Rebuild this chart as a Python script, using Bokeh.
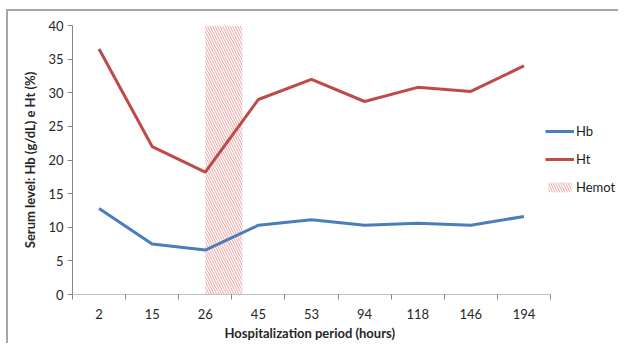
from bokeh.plotting import figure
from bokeh.models import FixedTicker, Range1d, Legend, LegendItem, Title
from bokeh.embed import file_html
from bokeh.resources import INLINE

hours = ["2", "15", "26", "45", "53", "94", "118", "146", "194"]
hb = [12.8, 7.5, 6.6, 10.3, 11.1, 10.3, 10.6, 10.3, 11.6]
ht = [36.5, 22.0, 18.2, 29.0, 32.0, 28.7, 30.8, 30.2, 34.0]
hemot_start = "26"
hemot_width = 0.7
hemot_top = 40
y_ticks = [0, 5, 10, 15, 20, 25, 30, 35, 40]

FONT = "Lato"
n = len(hours)
xs = [i + 0.5 for i in range(n)]
x_end = n * 548 / 478  # frame extends past the axis to host the legend

p = figure(width=612, height=334, output_backend="svg", toolbar_location=None,
           x_range=Range1d(0, x_end), y_range=Range1d(0, 40),
           min_border_left=64, min_border_right=0, min_border_top=14,
           min_border_bottom=51)
p.styles = {"border-left": "2px solid #a6a6a6", "border-top": "2px solid #a6a6a6",
            "margin-left": "6px", "margin-top": "9px"}
p.outline_line_color = None
p.xgrid.visible = False
p.ygrid.visible = False

x0 = hours.index(hemot_start) + 0.5
band = p.quad(left=[x0], right=[x0 + hemot_width], bottom=[0], top=[hemot_top],
              fill_alpha=0, line_alpha=0, hatch_pattern="\\",
              hatch_color="#e07070", hatch_alpha=0.65, hatch_scale=5, hatch_weight=1)

l_hb = p.line(xs, hb, line_color="#4a7ebb", line_width=3)
l_ht = p.line(xs, ht, line_color="#be4b48", line_width=3)

# x axis baseline (only spanning the categories)
p.segment(x0=[0], y0=[0], x1=[n], y1=[0], line_color="#868686", line_width=1)

# x axis
p.xaxis.ticker = FixedTicker(ticks=xs, minor_ticks=list(range(n + 1)))
p.xaxis.major_label_overrides = {x: h for x, h in zip(xs, hours)}
p.xaxis.axis_line_alpha = 0
p.xaxis.major_tick_line_alpha = 0
p.xaxis.major_tick_out = 0
p.xaxis.major_tick_in = 0
p.xaxis.minor_tick_out = 5
p.xaxis.minor_tick_in = 0
p.xaxis.minor_tick_line_color = "#868686"
p.xaxis.major_label_standoff = 9

# y axis
p.yaxis.ticker = FixedTicker(ticks=y_ticks)
p.yaxis.minor_tick_line_alpha = 0
p.yaxis.major_tick_out = 5
p.yaxis.major_tick_in = 0
p.yaxis.major_tick_line_color = "#868686"
p.yaxis.major_label_standoff = 4
p.yaxis.axis_label = "Serum level: Hb (g/dL) e Ht (%)"
p.yaxis.axis_label_standoff = 7
p.yaxis.axis_line_color = "#868686"

for ax in (p.xaxis, p.yaxis):
    ax.major_label_text_font = FONT
    ax.major_label_text_font_size = "13px"
    ax.major_label_text_color = "#262626"
    ax.axis_label_text_font = FONT
    ax.axis_label_text_font_size = "13px"
    ax.axis_label_text_font_style = "bold"
    ax.axis_label_text_color = "#262626"

# x axis title placed under the category axis (not the wider frame)
xt = Title(text="Hospitalization  period (hours)", align="left", offset=152,
           text_font=FONT, text_font_size="13px", text_font_style="bold",
           text_color="#262626", standoff=2)
p.add_layout(xt, "below")

legend = Legend(items=[LegendItem(label="Hb", renderers=[l_hb]),
                       LegendItem(label="Ht", renderers=[l_ht]),
                       LegendItem(label="Hemot", renderers=[band])],
                location=(473, 99), padding=0, margin=0, spacing=12,
                glyph_width=29, glyph_height=12, label_standoff=2,
                border_line_alpha=0, background_fill_alpha=0,
                label_text_font=FONT, label_text_font_size="13px",
                label_text_color="#1a1a1a")
p.add_layout(legend)

open("out.html", "w").write(file_html(p, INLINE))
